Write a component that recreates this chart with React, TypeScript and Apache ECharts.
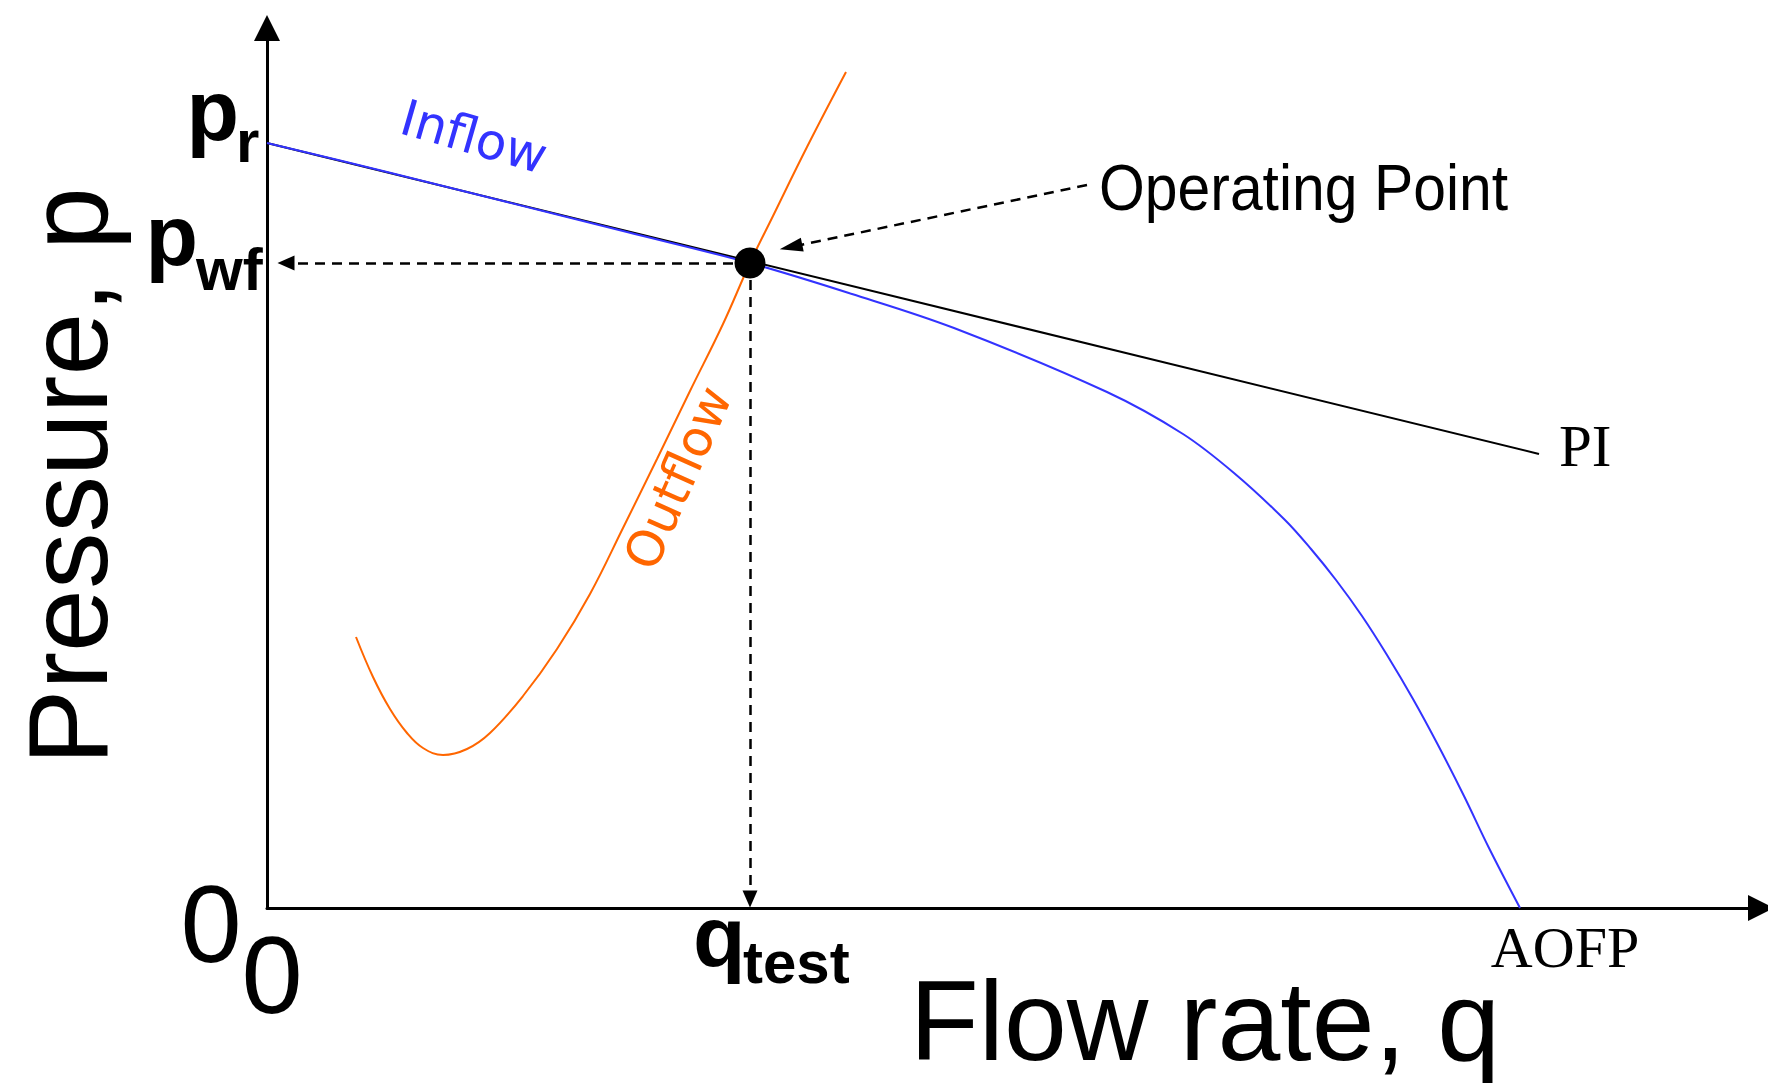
import React, { useEffect, useRef } from 'react';
import * as echarts from 'echarts';

// Productivity index (straight line) end points: flow rate q, pressure p
const piQ = [0, 1272];
const piP = [765, 454];

// Inflow performance curve
const inflowQ = [0, 120, 240, 360, 483, 585, 687, 840, 916, 967, 1018, 1044, 1069, 1095, 1120, 1146, 1171, 1197, 1222, 1253];
const inflowP = [765, 736, 706, 676, 645, 614, 580, 516, 474, 435, 388, 359, 328, 292, 253, 209, 163, 112, 60, 0];

// Outflow (tubing) curve
const outflowQ = [89, 106, 123, 140, 156, 176, 200, 223, 256, 290, 323, 356, 390, 423, 456, 483, 506, 540, 579];
const outflowP = [271, 231, 199, 175, 160, 153, 159, 175, 212, 259, 314, 380, 449, 517, 584, 645, 692, 761, 836];

// Key values
const qTest = 483;
const pWf = 645;
const pR = 765;
const aofp = 1253;
const xMax = 1494;
const yMax = 880;
const annotationFrom = [820, 723];
const annotationTo = [524, 661];
const inflowLabelAt = [207, 714];
const outflowLabelAt = [390, 443];

const SANS = "'Liberation Sans', Arial, Helvetica, sans-serif";
const SERIF = "'Liberation Serif', 'Times New Roman', serif";
const LABEL_SANS = "'DejaVu Sans', Verdana, sans-serif";
const BLUE = '#3333ff';
const ORANGE = '#ff6600';

export default function App() {
  const ref = useRef<HTMLDivElement>(null);

  useEffect(() => {
    document.body.style.margin = '0';
    const chart = echarts.init(ref.current as HTMLDivElement, null, { renderer: 'svg' });
    const zip = (a: number[], b: number[]) => a.map((v, i) => [v, b[i]]);
    const dash = { type: [10, 7], width: 2.5, color: '#000' };

    chart.setOption({
      animation: false,
      backgroundColor: '#fff',
      grid: { left: 267, top: 28, width: xMax, height: yMax, containLabel: false },
      xAxis: {
        type: 'value', min: 0, max: xMax,
        axisLine: { show: true, onZero: false, lineStyle: { color: '#000', width: 3 }, symbol: ['none', 'triangle'], symbolSize: [26, 26] },
        axisTick: { show: false }, axisLabel: { show: false }, splitLine: { show: false },
      },
      yAxis: {
        type: 'value', min: 0, max: yMax,
        axisLine: { show: true, onZero: false, lineStyle: { color: '#000', width: 3 }, symbol: ['none', 'triangle'], symbolSize: [26, 26] },
        axisTick: { show: false }, axisLabel: { show: false }, splitLine: { show: false },
      },
      series: [
        {
          name: 'PI', type: 'line', data: zip(piQ, piP), showSymbol: false, silent: true,
          lineStyle: { color: '#000', width: 2 }, z: 2,
        },
        {
          name: 'Inflow', type: 'line', data: zip(inflowQ, inflowP), showSymbol: false,
          smooth: 0.35, silent: true,
          lineStyle: { color: BLUE, width: 2 }, z: 3,
        },
        {
          name: 'Outflow', type: 'line', data: zip(outflowQ, outflowP), showSymbol: false,
          smooth: 0.4, silent: true,
          lineStyle: { color: ORANGE, width: 2 }, z: 3,
        },
        {
          name: 'Operating Point', type: 'scatter', data: [[qTest, pWf]], symbolSize: 31, silent: true,
          itemStyle: { color: '#000', opacity: 1 }, z: 5,
          markLine: {
            silent: true, symbol: ['none', 'triangle'], symbolSize: [15, 17],
            label: { show: false }, lineStyle: dash, emphasis: { disabled: true },
            data: [
              [{ coord: [qTest, pWf] }, { coord: [19, pWf] }],
              [{ coord: [qTest, pWf] }, { coord: [qTest, 9] }],
              [{ coord: annotationFrom }, { coord: annotationTo, symbolSize: [14, 23] }],
            ],
          },
        },
      ],
    });

    const px = (q: number, p: number) => chart.convertToPixel({ gridIndex: 0 }, [q, p]) as number[];
    const [ax, ay] = px(0, 0);
    const prPix = px(0, pR);
    const opPix = px(qTest, pWf);
    const aofpPix = px(aofp, 0);
    const piEndPix = px(piQ[1], piP[1]);
    const annPix = px(annotationFrom[0], annotationFrom[1]);
    const inPix = px(inflowLabelAt[0], inflowLabelAt[1]);
    const outPix = px(outflowLabelAt[0], outflowLabelAt[1]);

    const txt = (
      x: number, y: number, text: string,
      o: { size: number; family?: string; weight?: string; fill?: string; align?: string; rotation?: number; scaleX?: number }
    ) => ({
      type: 'text', x, y, rotation: o.rotation || 0, scaleX: o.scaleX || 1, silent: true, z: 100,
      style: {
        text, fill: o.fill || '#000', fontSize: o.size, fontFamily: o.family || SANS,
        fontWeight: o.weight || 'normal', align: o.align || 'center', verticalAlign: 'middle',
      },
    });

    chart.setOption({
      graphic: [
        txt(ax - 56, ay + 15, '0', { size: 110 }),
        txt(ax + 5, ay + 66, '0', { size: 110 }),
        txt(ax - 28, prPix[1] - 33, 'p', { size: 86, weight: 'bold', align: 'right' }),
        txt(ax - 31, prPix[1] - 2, 'r', { size: 60, weight: 'bold', align: 'left' }),
        txt(ax - 69, opPix[1] - 28, 'p', { size: 86, weight: 'bold', align: 'right' }),
        txt(ax - 71, opPix[1] + 6, 'wf', { size: 60, weight: 'bold', align: 'left' }),
        txt(opPix[0] - 57, ay + 28, 'q', { size: 86, weight: 'bold', align: 'left' }),
        txt(opPix[0] - 7, ay + 54, 'test', { size: 60, weight: 'bold', align: 'left' }),
        txt(aofpPix[0] + 45, ay + 39, 'AOFP', { size: 58, family: SERIF }),
        txt(piEndPix[0] + 20, piEndPix[1] - 8, 'PI', { size: 59, family: SERIF, align: 'left' }),
        txt(annPix[0] + 12, annPix[1] + 3, 'Operating Point', { size: 64, align: 'left', scaleX: 0.92 }),
        txt(inPix[0], inPix[1] - 57, 'Inflow', { size: 50, family: LABEL_SANS, fill: BLUE, rotation: -16 * Math.PI / 180 }),
        txt(outPix[0] + 21, outPix[1] + 13, 'Outflow', { size: 50, family: LABEL_SANS, fill: ORANGE, rotation: 66 * Math.PI / 180 }),
        txt(ax - 199, (ay + px(0, yMax)[1]) / 2 + 8, 'Pressure, p', { size: 113, rotation: Math.PI / 2 }),
        txt(ax + 938, ay + 113, 'Flow rate, q', { size: 113 }),
      ],
    });

    return () => chart.dispose();
  }, []);

  return (
    <div
      ref={ref}
      style={{ position: 'fixed', left: 0, top: 0, width: 1768, height: 1083, background: '#fff' }}
    />
  );
}
